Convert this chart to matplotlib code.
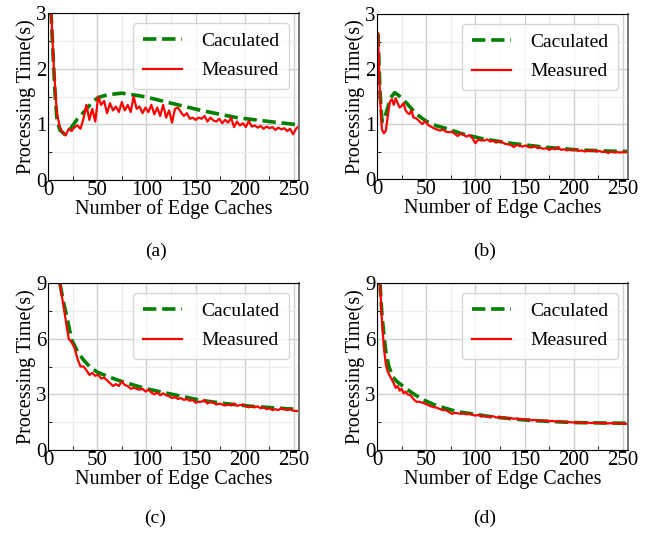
import matplotlib

matplotlib.use("Agg")
import matplotlib.pyplot as plt
from matplotlib.ticker import MultipleLocator

plt.rcParams["font.family"] = ["Liberation Serif", "DejaVu Serif"]

# (a) hesablanmis ve olculmus
a_calc_x = [3, 5, 7, 9, 12, 17, 22, 30, 38, 45, 51, 60, 75, 90, 100, 125, 158, 192, 225, 255]
a_calc_y = [3.05, 2.3, 1.6, 1.1, 0.9, 0.82, 0.9, 1.1, 1.25, 1.4, 1.48, 1.53, 1.56, 1.52,
            1.49, 1.38, 1.24, 1.12, 1.05, 0.99]
a_meas_x = [3, 6, 9, 12, 15, 18, 21, 24, 27, 30, 33, 36, 39, 42, 45, 48, 51, 54, 57, 60,
            63, 66, 69, 72, 75, 78, 81, 84, 87, 90, 93, 96, 99, 102, 105, 108, 111, 114,
            117, 120, 123, 126, 129, 132, 135, 138, 141, 144, 147, 150, 153, 156, 159,
            162, 165, 168, 171, 174, 177, 180, 183, 186, 189, 192, 195, 198, 201, 204,
            207, 210, 213, 216, 219, 222, 225, 228, 231, 234, 237, 240, 243, 246, 249,
            252, 255]
a_meas_y = [3.1, 2.0, 1.2, 0.95, 0.85, 0.80, 0.92, 0.88, 0.95, 0.98, 0.92, 1.10, 1.35,
            1.08, 1.28, 1.05, 1.50, 1.35, 1.42, 1.20, 1.38, 1.25, 1.32, 1.22, 1.40, 1.25,
            1.35, 1.22, 1.50, 1.28, 1.32, 1.20, 1.30, 1.22, 1.35, 1.18, 1.30, 1.15, 1.35,
            1.12, 1.25, 1.03, 1.28, 1.30, 1.22, 1.15, 1.20, 1.10, 1.12, 1.08, 1.12, 1.10,
            1.15, 1.05, 1.12, 1.07, 1.05, 1.10, 1.02, 1.08, 1.03, 1.12, 0.95, 1.05, 0.98,
            1.02, 0.95, 1.06, 0.96, 0.98, 0.94, 0.97, 0.92, 0.96, 0.93, 0.95, 0.90, 0.94,
            0.91, 0.93, 0.88, 0.92, 0.82, 0.92, 0.97]

# (b)
b_calc_x = [1, 3, 5, 7, 10, 14, 18, 22, 30, 40, 50, 60, 72, 85, 105, 125, 140, 170, 203,
            230, 255]
b_calc_y = [2.65, 1.6, 1.05, 1.05, 1.25, 1.48, 1.57, 1.52, 1.38, 1.18, 1.05, 0.97, 0.91,
            0.83, 0.74, 0.68, 0.64, 0.58, 0.53, 0.51, 0.50]
b_meas_x = [1, 3, 5, 7, 9, 11, 13, 15, 17, 19, 21, 23, 25, 27, 29, 31, 33, 35, 37, 40,
            43, 46, 49, 52, 55, 58, 61, 64, 67, 70, 73, 76, 79, 82, 85, 88, 91, 94, 97,
            100, 103, 106, 109, 112, 115, 118, 121, 124, 127, 130, 133, 136, 139, 142,
            145, 148, 151, 154, 157, 160, 163, 166, 169, 172, 175, 178, 181, 184, 187,
            190, 193, 196, 199, 202, 205, 208, 211, 214, 217, 220, 223, 226, 229, 232,
            235, 238, 241, 244, 247, 250, 253, 255]
b_meas_y = [2.65, 1.5, 0.9, 0.83, 0.88, 1.15, 1.40, 1.45, 1.35, 1.47, 1.38, 1.30, 1.33,
            1.38, 1.25, 1.20, 1.18, 1.25, 1.12, 1.10, 1.05, 1.00, 1.05, 0.98, 0.95, 0.92,
            0.90, 0.88, 0.90, 0.86, 0.85, 0.86, 0.82, 0.78, 0.83, 0.80, 0.77, 0.80, 0.74,
            0.65, 0.72, 0.70, 0.70, 0.72, 0.68, 0.70, 0.66, 0.69, 0.67, 0.64, 0.63, 0.62,
            0.58, 0.62, 0.60, 0.59, 0.61, 0.58, 0.57, 0.60, 0.56, 0.57, 0.55, 0.56, 0.53,
            0.56, 0.54, 0.58, 0.53, 0.54, 0.52, 0.53, 0.52, 0.54, 0.51, 0.52, 0.50, 0.52,
            0.51, 0.53, 0.50, 0.51, 0.49, 0.50, 0.47, 0.50, 0.48, 0.49, 0.48, 0.49, 0.49,
            0.48]

# (c)
c_calc_x = [12, 16, 19, 24, 30, 36, 43, 50, 60, 70, 87, 100, 121, 155, 180, 206, 230, 250]
c_calc_y = [9.0, 7.9, 7.2, 5.95, 5.3, 4.86, 4.45, 4.2, 3.98, 3.78, 3.5, 3.3, 3.06, 2.68,
            2.5, 2.36, 2.27, 2.2]
c_meas_x = [12, 15, 18, 21, 24, 27, 30, 33, 36, 39, 42, 45, 48, 51, 54, 57, 60, 63, 66,
            69, 72, 75, 78, 81, 84, 87, 90, 93, 96, 99, 102, 105, 108, 111, 114, 117, 120,
            123, 126, 129, 132, 135, 138, 141, 144, 147, 150, 153, 156, 159, 162, 165, 168,
            171, 174, 177, 180, 183, 186, 189, 192, 195, 198, 201, 204, 207, 210, 213, 216,
            219, 222, 225, 228, 231, 234, 237, 240, 243, 246, 249, 252, 255]
c_meas_y = [9.0, 8.0, 7.0, 6.0, 5.8, 5.5, 4.9, 4.5, 4.5, 4.3, 4.05, 4.15, 4.0, 4.05, 3.85,
            3.9, 3.75, 3.6, 3.45, 3.55, 3.45, 3.7, 3.5, 3.45, 3.3, 3.35, 3.3, 3.25, 3.3,
            3.15, 3.25, 3.1, 3.0, 3.1, 2.95, 3.05, 2.95, 2.9, 2.8, 2.85, 2.75, 2.8, 2.7,
            2.75, 2.65, 2.7, 2.55, 2.6, 2.6, 2.7, 2.5, 2.6, 2.55, 2.45, 2.5, 2.45, 2.4,
            2.45, 2.4, 2.5, 2.38, 2.42, 2.45, 2.35, 2.3, 2.38, 2.3, 2.35, 2.25, 2.3, 2.2,
            2.25, 2.15, 2.2, 2.15, 2.25, 2.2, 2.15, 2.2, 2.12, 2.1, 2.12]

# (d)
d_calc_x = [3, 5, 7, 9, 12, 16, 20, 27, 35, 47, 60, 81, 100, 115, 149, 175, 200, 225, 255]
d_calc_y = [9.0, 7.3, 6.2, 5.3, 4.5, 3.95, 3.7, 3.42, 3.1, 2.7, 2.4, 2.07, 1.92, 1.8,
            1.62, 1.54, 1.48, 1.46, 1.44]
d_meas_x = [3, 5, 7, 9, 11, 13, 15, 17, 19, 21, 23, 25, 27, 29, 31, 34, 37, 40, 43, 46,
            49, 52, 55, 58, 61, 64, 67, 70, 73, 76, 79, 82, 85, 88, 91, 94, 97, 100, 103,
            106, 109, 112, 115, 118, 121, 124, 127, 130, 133, 136, 139, 142, 145, 148,
            151, 154, 157, 160, 163, 166, 169, 172, 175, 178, 181, 184, 187, 190, 193,
            196, 199, 202, 205, 208, 211, 214, 217, 220, 223, 226, 229, 232, 235, 238,
            241, 244, 247, 250, 253, 255]
d_meas_y = [9.0, 7.0, 5.5, 4.6, 4.2, 4.0, 3.8, 3.6, 3.35, 3.45, 3.2, 3.3, 3.05, 3.15,
            3.0, 2.95, 2.75, 2.6, 2.6, 2.55, 2.5, 2.42, 2.35, 2.3, 2.28, 2.2, 2.15, 2.15,
            2.05, 1.95, 2.0, 1.98, 1.95, 1.97, 1.92, 1.95, 1.9, 1.85, 1.9, 1.8, 1.85, 1.78,
            1.8, 1.82, 1.75, 1.78, 1.72, 1.75, 1.7, 1.72, 1.68, 1.7, 1.65, 1.67, 1.63,
            1.65, 1.6, 1.62, 1.58, 1.6, 1.57, 1.58, 1.55, 1.57, 1.53, 1.55, 1.52, 1.53,
            1.5, 1.5, 1.48, 1.5, 1.47, 1.48, 1.46, 1.48, 1.45, 1.47, 1.45, 1.46, 1.44,
            1.45, 1.43, 1.45, 1.42, 1.44, 1.42, 1.43, 1.41, 1.42]

paneller = [
    ("(a)", a_calc_x, a_calc_y, a_meas_x, a_meas_y, 3, 1),
    ("(b)", b_calc_x, b_calc_y, b_meas_x, b_meas_y, 3, 1),
    ("(c)", c_calc_x, c_calc_y, c_meas_x, c_meas_y, 9, 3),
    ("(d)", d_calc_x, d_calc_y, d_meas_x, d_meas_y, 9, 3),
]

W, H = 648, 535
yerler = [(48, 13, 299, 180), (377, 14, 628, 179), (48, 283, 299, 450), (377, 283, 628, 450)]
basliq_y = [251, 251, 518, 518]

fig = plt.figure(figsize=(W / 100, H / 100), dpi=100)

for i in range(4):
    ad, cx, cy, mx, my, ymax, ystep = paneller[i]
    l, t, r, b = yerler[i]
    ax = fig.add_axes([l / W, 1 - b / H, (r - l) / W, (b - t) / H])
    ax.plot(cx, cy, "--", color="green", lw=2.6, label="Caculated")
    ax.plot(mx, my, "-", color="red", lw=1.6, label="Measured")
    ax.set_xlim(0, 255)
    ax.set_ylim(0, ymax)
    ax.xaxis.set_major_locator(MultipleLocator(50))
    ax.xaxis.set_minor_locator(MultipleLocator(25))
    ax.yaxis.set_major_locator(MultipleLocator(ystep))
    ax.yaxis.set_minor_locator(MultipleLocator(ystep / 2))
    ax.grid(True, which="major", color="#d0d0d0", lw=1.0)
    ax.grid(True, which="minor", color="#ececec", lw=0.9)
    ax.set_axisbelow(True)
    ax.tick_params(which="both", direction="in", labelsize=15, pad=1)
    ax.tick_params(which="major", length=0)
    ax.tick_params(which="minor", length=3)
    ax.set_xlabel("Number of Edge Caches", fontsize=14.5, labelpad=-1)
    ax.set_ylabel("Processing Time(s)", fontsize=14.5, labelpad=0)
    for s in ["left", "bottom", "top"]:
        ax.spines[s].set_color("black")
    ax.spines["right"].set_color("#777777")
    ax.spines["right"].set_linewidth(1.4)
    ax.legend(loc="upper right", fontsize=14, handlelength=2.0, borderpad=0.5,
              labelspacing=0.6, handletextpad=1.0, fancybox=True)
    fig.text(((l + r) / 2 - 18) / W, 1 - basliq_y[i] / H, ad, ha="center", va="center",
             fontsize=14)

plt.savefig("out.png", dpi=100)
plt.close()
